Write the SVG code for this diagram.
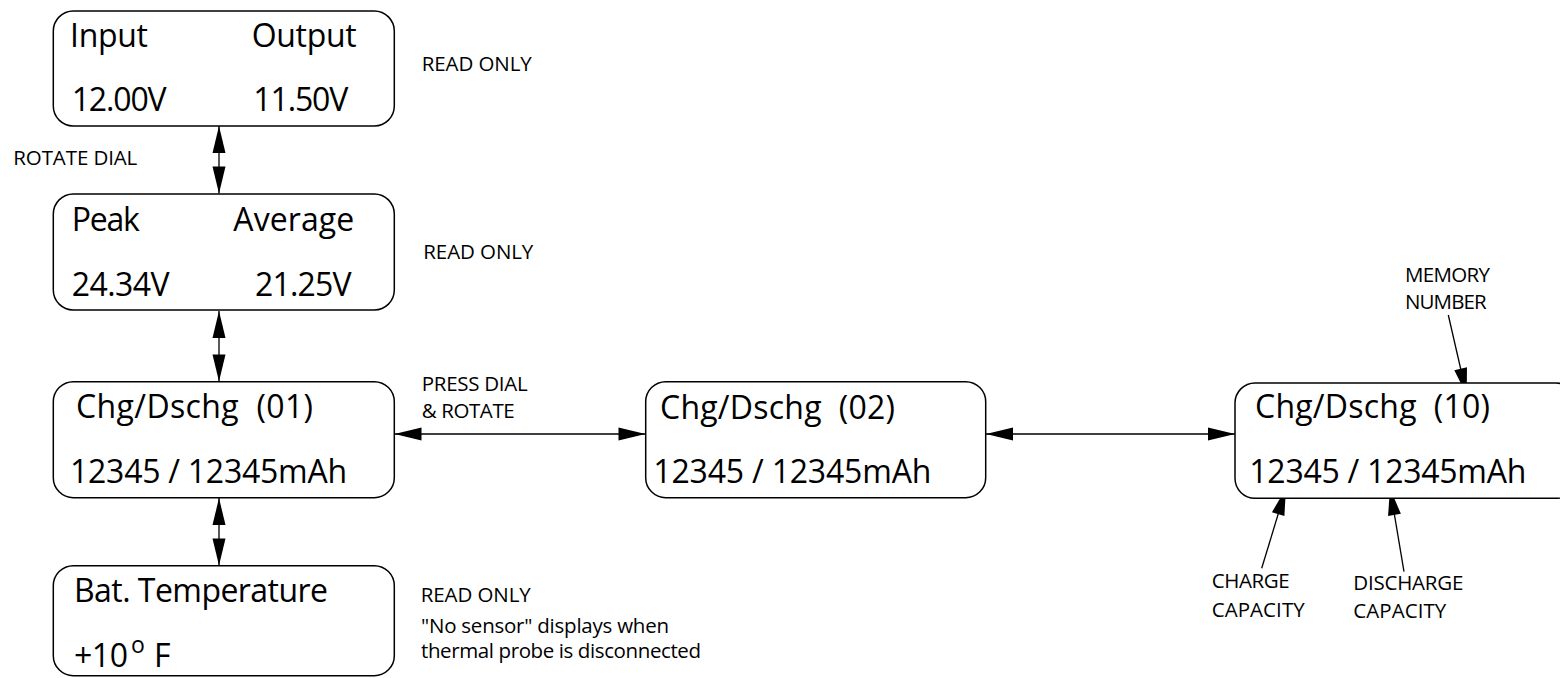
<svg xmlns="http://www.w3.org/2000/svg" width="1560" height="678" viewBox="0 0 1560 678">
<style>
.box{fill:#fff;stroke:#000;stroke-width:1.5}
.big{font-family:"Open Sans","Liberation Sans",sans-serif;font-size:32px;fill:#000}
.lbl{font-family:"Open Sans","Liberation Sans",sans-serif;font-size:20.5px;fill:#000}
.sup{font-family:"Open Sans","Liberation Sans",sans-serif;font-size:23px;fill:#000}
.con{fill:none;stroke:#000;stroke-width:1.3}
</style>
<defs>
<marker id="ah" markerUnits="userSpaceOnUse" markerWidth="30" markerHeight="16" viewBox="0 -8 28 16" refX="27" refY="0" orient="auto-start-reverse">
<path d="M0,-6.5 L27,0 L0,6.5 z" fill="#000"/>
</marker>
</defs>
<rect width="1560" height="678" fill="#fff"/>

<g id="connectors">
<line class="con" x1="219" y1="126" x2="219" y2="193.5" marker-start="url(#ah)" marker-end="url(#ah)"/>
<line class="con" x1="219" y1="311" x2="219" y2="381.5" marker-start="url(#ah)" marker-end="url(#ah)"/>
<line class="con" x1="219" y1="498" x2="219" y2="565.5" marker-start="url(#ah)" marker-end="url(#ah)"/>
<line class="con" x1="394.5" y1="434" x2="645.5" y2="434" marker-start="url(#ah)" marker-end="url(#ah)"/>
<line class="con" x1="986" y1="434" x2="1235" y2="434" marker-start="url(#ah)" marker-end="url(#ah)"/>
<line class="con" x1="1448.3" y1="315" x2="1466.7" y2="395" marker-end="url(#ah)"/>
<line class="con" x1="1261.7" y1="568.3" x2="1286" y2="488.3" marker-end="url(#ah)"/>
<line class="con" x1="1404" y1="571.7" x2="1390" y2="488.3" marker-end="url(#ah)"/>
</g>

<g id="node-input-output">
<rect class="box" x="53.3" y="11" width="341" height="115" rx="20" ry="20"/>
<text class="big" x="70" y="46.7" textLength="78">Input</text>
<text class="big" x="251.7" y="46.7" textLength="105">Output</text>
<text class="big" x="71.7" y="111" textLength="95">12.00V</text>
<text class="big" x="253.3" y="111" textLength="95">11.50V</text>
</g>

<g id="node-peak-average">
<rect class="box" x="53.3" y="194" width="341" height="116" rx="20" ry="20"/>
<text class="big" x="71.7" y="230.7" textLength="68">Peak</text>
<text class="big" x="233.3" y="230.7" textLength="121">Average</text>
<text class="big" x="71.7" y="296" textLength="98">24.34V</text>
<text class="big" x="255" y="296" textLength="96.7">21.25V</text>
</g>

<g id="node-chg01">
<rect class="box" x="53.3" y="381.7" width="341" height="116" rx="20" ry="20"/>
<text class="big" x="76" y="418.3" textLength="237" xml:space="preserve">Chg/Dschg  (01)</text>
<text class="big" x="70" y="482.7" textLength="277">12345 / 12345mAh</text>
</g>

<g id="node-temp">
<rect class="box" x="53.3" y="565.7" width="341" height="110" rx="20" ry="20"/>
<text class="big" x="74" y="601.7" textLength="254">Bat. Temperature</text>
<text class="big" x="74" y="666.7" textLength="54">+10</text>
<text class="sup" x="131" y="652.5">o</text>
<text class="big" x="154" y="666.7">F</text>
</g>

<g id="node-chg02">
<rect class="box" x="645.7" y="381.7" width="340" height="116" rx="20" ry="20"/>
<text class="big" x="660" y="419.3" textLength="235" xml:space="preserve">Chg/Dschg  (02)</text>
<text class="big" x="653.3" y="482.7" textLength="278">12345 / 12345mAh</text>
</g>

<g id="node-chg10">
<rect class="box" x="1235" y="383" width="341" height="115.3" rx="20" ry="20"/>
<text class="big" x="1255" y="418.3" textLength="235" xml:space="preserve">Chg/Dschg  (10)</text>
<text class="big" x="1249.3" y="483.3" textLength="277">12345 / 12345mAh</text>
</g>

<g id="labels">
<text class="lbl" x="421.7" y="71" textLength="110">READ ONLY</text>
<text class="lbl" x="13.3" y="165" textLength="124">ROTATE DIAL</text>
<text class="lbl" x="423.3" y="259" textLength="110">READ ONLY</text>
<text class="lbl" x="421.7" y="391" textLength="106">PRESS DIAL</text>
<text class="lbl" x="421.7" y="417.7" textLength="93">&amp; ROTATE</text>
<text class="lbl" x="420.7" y="602.3" textLength="110">READ ONLY</text>
<text class="lbl" x="421" y="633.3" textLength="248">"No sensor" displays when</text>
<text class="lbl" x="421" y="658.3" textLength="280">thermal probe is disconnected</text>
<text class="lbl" x="1405" y="281.7" textLength="85">MEMORY</text>
<text class="lbl" x="1405" y="309" textLength="81.7">NUMBER</text>
<text class="lbl" x="1211.7" y="588.3" textLength="78">CHARGE</text>
<text class="lbl" x="1211.7" y="616.7" textLength="93">CAPACITY</text>
<text class="lbl" x="1353.3" y="590" textLength="110">DISCHARGE</text>
<text class="lbl" x="1353.3" y="618.3" textLength="93">CAPACITY</text>
</g>
</svg>
